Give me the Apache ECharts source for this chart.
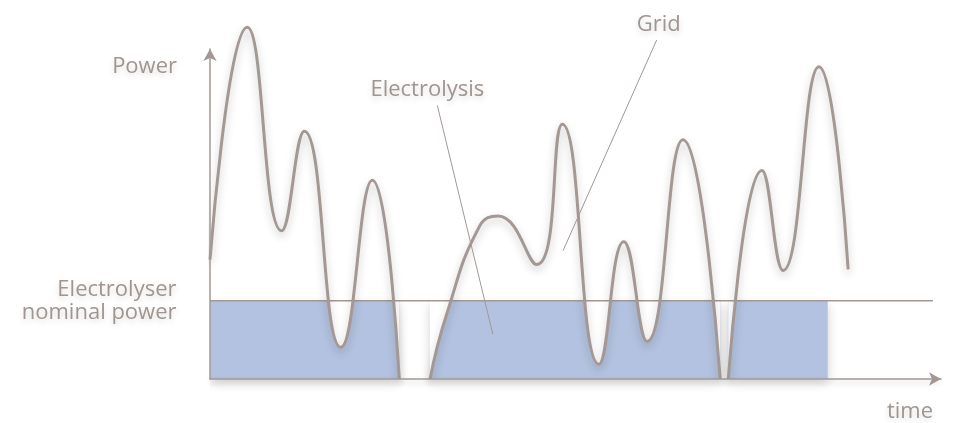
<!DOCTYPE html>
<html>
<head>
<meta charset="utf-8">
<script src="https://cdn.jsdelivr.net/npm/echarts@6/dist/echarts.min.js"></script>
<style>
html,body{margin:0;padding:0;background:#fff;}
#chart{width:956px;height:423px;}
</style>
</head>
<body>
<div id="chart"></div>
<script>
// ---- data (time 0..100, power 0..100 of axis height) ----
const gridCurveA = [[0,36.2],[5.1,106.6],[9.8,44.9],[12.9,75.1],[17.9,9.6],[22.2,60.2],[25.9,0]];
const gridCurveB = [[30.1,0],[32.4,19.8],[36.9,46.4],[39.4,49.4],[44.7,34.7],[48.2,77.2],[53.2,4.5],[56.6,41.6],[59.8,11.4],[64.7,72.5],[69.8,0]];
const gridCurveC = [[70.9,0],[75.5,63.2],[78.4,32.9],[83.3,94.6],[87.3,33.2]];
const nominalPower = 23.7;
const nominalLineEnd = 98.9;
const electrolysisStart = [0, 30.1, 70.9];
const electrolysisEnd = [25.9, 69.8, 84.5];
const electrolysisLeader = [[31.1,82.9],[38.7,13.5]];
const gridLeader = [[61.1,102.7],[48.3,38.9]];
const labels = {power:'Power', time:'time', nominal:'Electrolyser\nnominal power', electrolysis:'Electrolysis', grid:'Grid'};

const LINE = '#a39893';
const TEXT = '#a0958f';
const FONT = {fontFamily:'Open Sans', fontSize:22, fontWeight:'normal', color:TEXT,
  textShadowColor:'rgba(0,0,0,0.16)', textShadowBlur:6, textShadowOffsetY:3};

const curves = [gridCurveA, gridCurveB, gridCurveC];
const series = [];

// blue electrolysis blocks
electrolysisStart.forEach((s,i)=>{
  series.push({type:'line', z:1, silent:true, showSymbol:false, clip:false,
    data:[[s,nominalPower],[electrolysisEnd[i],nominalPower]],
    lineStyle:{width:0},
    areaStyle:{color:'#b3c2e0', opacity:1, shadowColor:'rgba(0,0,0,0.18)', shadowBlur:10, shadowOffsetY:4}
  });
});
// white mask above the grid curve
curves.forEach(c=>{
  series.push({type:'line', z:2, silent:true, showSymbol:false, clip:false, smooth:0.5,
    data:c, lineStyle:{width:0}, areaStyle:{color:'#ffffff', opacity:1, origin:'end'}});
});
// nominal power line
series.push({type:'line', z:3, silent:true, clip:false, symbol:'circle', symbolSize:1,
  itemStyle:{color:'rgba(0,0,0,0)'},
  data:[{value:[0,nominalPower], label:{show:true, position:'left', distance:33, formatter:labels.nominal,
      align:'right', lineHeight:23, ...FONT}}, [nominalLineEnd,nominalPower]],
  lineStyle:{color:LINE, width:1.5}
});
// grid curve lines
curves.forEach(c=>{
  series.push({type:'line', z:4, silent:true, showSymbol:false, clip:false, smooth:0.5,
    data:c, lineStyle:{color:LINE, width:3, shadowColor:'rgba(0,0,0,0.24)', shadowBlur:9, shadowOffsetY:4}});
});
// leaders
[[electrolysisLeader, labels.electrolysis, [-10,0]],[gridLeader, labels.grid, [2,0]]].forEach(([pts,txt,off])=>{
  series.push({type:'line', z:5, silent:true, clip:false, symbol:'circle', symbolSize:1,
    itemStyle:{color:'rgba(0,0,0,0)'},
    data:[{value:pts[0], label:{show:true, position:'top', distance:4, offset:off, formatter:txt, ...FONT}}, pts[1]],
    lineStyle:{color:LINE, width:1}
  });
});

const chart = echarts.init(document.getElementById('chart'));
chart.setOption({
  animation:false,
  grid:{left:210, right:15, top:49, bottom:40},
  xAxis:{type:'value', min:0, max:100, z:10,
    name:labels.time, nameLocation:'end', nameGap:-8,
    nameTextStyle:{...FONT, align:'right', verticalAlign:'top', padding:[22,0,0,0]},
    axisLine:{show:true, symbol:['none','arrow'], symbolSize:[10,12],
      lineStyle:{color:LINE, width:1.5, shadowColor:'rgba(0,0,0,0.2)', shadowBlur:6, shadowOffsetY:3}},
    axisTick:{show:false}, axisLabel:{show:false}, splitLine:{show:false}},
  yAxis:{type:'value', min:0, max:100, z:10,
    name:labels.power, nameLocation:'end', nameGap:-18,
    nameTextStyle:{...FONT, align:'right', verticalAlign:'middle', padding:[0,33,0,0]},
    axisLine:{show:true, symbol:['none','arrow'], symbolSize:[10,12],
      lineStyle:{color:LINE, width:1.5}},
    axisTick:{show:false}, axisLabel:{show:false}, splitLine:{show:false}},
  series
});
</script>
</body>
</html>
